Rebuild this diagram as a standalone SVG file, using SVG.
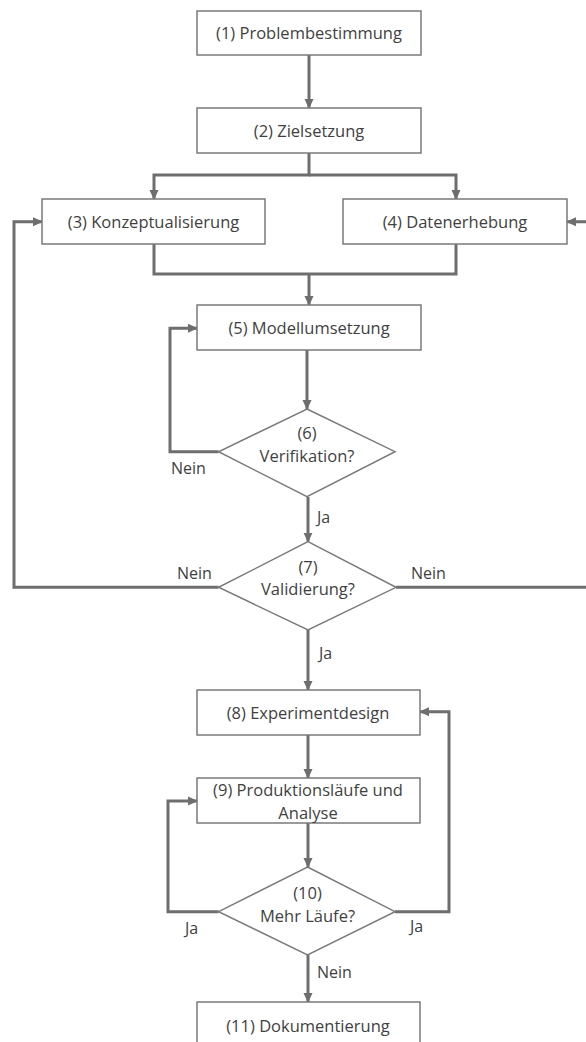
<svg xmlns="http://www.w3.org/2000/svg" width="586" height="1042" viewBox="0 0 586 1042">
<style>
.box{fill:#ffffff;stroke:#7a7a7a;stroke-width:1.5}
.dia{fill:#ffffff;stroke:#7a7a7a;stroke-width:1.5}
.t{font-family:"Open Sans","Liberation Sans",sans-serif;font-size:16.5px;fill:#3f3f3f;text-anchor:middle}
.l{font-family:"Open Sans","Liberation Sans",sans-serif;font-size:16px;fill:#3f3f3f}
.c{fill:none;stroke:#6e6e6e;stroke-width:3;marker-end:url(#ah)}
.c0{fill:none;stroke:#6e6e6e;stroke-width:3}
</style>
<defs>
<marker id="ah" markerUnits="userSpaceOnUse" markerWidth="10" markerHeight="10" refX="9" refY="5" orient="auto" viewBox="0 0 10 10">
<path d="M0,0.5 L10,5 L0,9.5 z" fill="#6e6e6e"/>
</marker>
</defs>
<rect width="586" height="1042" fill="#ffffff"/>
<g id="connectors">
<path class="c" d="M309,55 V108"/>
<path class="c" d="M309,153 V175 H154 V199"/>
<path class="c" d="M309,175 H456 V199"/>
<path class="c0" d="M154,244 V274 H456 V244"/>
<path class="c" d="M309,274 V305"/>
<path class="c" d="M307,350 V409"/>
<path class="c" d="M218.6,451.7 H170 V328.3 H197"/>
<path class="c" d="M308,497 V541.7"/>
<path class="c" d="M218.6,587.3 H14 V221.7 H42"/>
<path class="c" d="M396,587.3 H592 V221.7 H567"/>
<path class="c" d="M308,630 V690"/>
<path class="c" d="M308,735 V778"/>
<path class="c" d="M308,823 V867"/>
<path class="c" d="M218.6,911.7 H168 V801 H197"/>
<path class="c" d="M395,911.7 H449 V711.7 H420"/>
<path class="c" d="M308,955 V1002"/>
</g>
<g id="n1"><rect class="box" x="197" y="11" width="224" height="44"/><text class="t" x="309" y="39">(1) Problembestimmung</text></g>
<g id="n2"><rect class="box" x="197" y="108" width="224" height="45"/><text class="t" x="309" y="136.5">(2) Zielsetzung</text></g>
<g id="n3"><rect class="box" x="42" y="199" width="223" height="45"/><text class="t" x="153.5" y="227.5">(3) Konzeptualisierung</text></g>
<g id="n4"><rect class="box" x="343" y="199" width="224" height="45"/><text class="t" x="455" y="227.5">(4) Datenerhebung</text></g>
<g id="n5"><rect class="box" x="197" y="305" width="224" height="45"/><text class="t" x="309" y="333.5">(5) Modellumsetzung</text></g>
<g id="n6"><polygon class="dia" points="307,409 395,451.7 307,496.7 218.6,451.7"/><text class="t" x="307" y="438.5">(6)</text><text class="t" x="307" y="461.5">Verifikation?</text></g>
<g id="n7"><polygon class="dia" points="308,541.7 396,587.3 308,630 218.6,587.3"/><text class="t" x="308" y="572.5">(7)</text><text class="t" x="308" y="595">Validierung?</text></g>
<g id="n8"><rect class="box" x="197" y="690" width="223" height="45"/><text class="t" x="308" y="718.5">(8) Experimentdesign</text></g>
<g id="n9"><rect class="box" x="197" y="778" width="223" height="45"/><text class="t" x="308" y="795.5">(9) Produktionsläufe und</text><text class="t" x="308" y="818.5">Analyse</text></g>
<g id="n10"><polygon class="dia" points="307.5,867 395,911.7 307.5,955 218.6,911.7"/><text class="t" x="307.5" y="899">(10)</text><text class="t" x="307.5" y="921.5">Mehr Läufe?</text></g>
<g id="n11"><rect class="box" x="197" y="1002" width="223" height="46"/><text class="t" x="308" y="1031.5">(11) Dokumentierung</text></g>
<g id="labels">
<text class="l" x="171" y="473.5">Nein</text>
<text class="l" x="317" y="522.5">Ja</text>
<text class="l" x="177" y="578.5">Nein</text>
<text class="l" x="411" y="578.5">Nein</text>
<text class="l" x="319" y="658.5">Ja</text>
<text class="l" x="185" y="934">Ja</text>
<text class="l" x="410" y="931.5">Ja</text>
<text class="l" x="317" y="977.5">Nein</text>
</g>
</svg>
